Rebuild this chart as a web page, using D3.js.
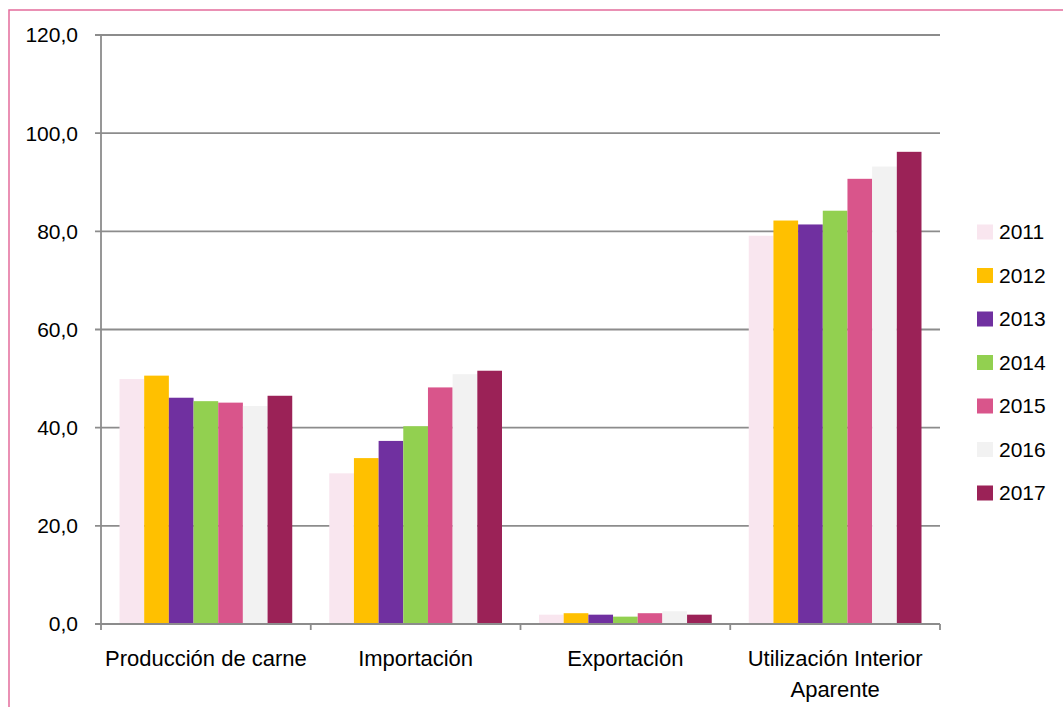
<!DOCTYPE html>
<html><head><meta charset="utf-8">
<script src="https://cdn.jsdelivr.net/npm/d3@7"></script>
<style>body{margin:0;background:#fff}svg{display:block}</style>
</head><body>
<svg id="c" width="1063" height="707"></svg>
<script>
const categories = ["Producción de carne", "Importación", "Exportación", "Utilización Interior Aparente"];
const years = ["2011","2012","2013","2014","2015","2016","2017"];
const v2011 = [49.9, 30.7, 1.9, 79.1];
const v2012 = [50.6, 33.8, 2.2, 82.2];
const v2013 = [46.1, 37.3, 1.9, 81.4];
const v2014 = [45.4, 40.3, 1.5, 84.2];
const v2015 = [45.1, 48.2, 2.2, 90.7];
const v2016 = [44.4, 50.9, 2.6, 93.2];
const v2017 = [46.5, 51.6, 1.9, 96.2];
const yTicks = [0, 20, 40, 60, 80, 100, 120];
const colors = ["#F9E6EF","#FFC000","#7030A0","#92D050","#D9558B","#F2F2F2","#9B2257"];
const series = [v2011, v2012, v2013, v2014, v2015, v2016, v2017];

const svg = d3.select("#c");
const font = "'Liberation Sans', Arial, sans-serif";
const L = 101, R = 940, T = 35, B = 624;

svg.append("rect").attr("x",9).attr("y",10).attr("width",1200).attr("height",900)
  .attr("fill","none").attr("stroke","#E36C9C").attr("stroke-width",1.5);

const y = d3.scaleLinear().domain([0,120]).range([B,T]);
const x0 = d3.scaleBand().domain(categories).range([L,R]).paddingInner(0).paddingOuter(0);
const bw = x0.bandwidth();
const inner = bw * 7 / 8.5;
const x1 = d3.scaleBand().domain(years).range([(bw-inner)/2, (bw+inner)/2]).padding(0);

// gridlines
svg.append("g").selectAll("line").data(yTicks.filter(d=>d>0)).join("line")
  .attr("x1",L-6).attr("x2",R).attr("y1",d=>y(d)).attr("y2",d=>y(d))
  .attr("stroke","#8c8c8c").attr("stroke-width",1.8);

// bars
const groups = svg.append("g").selectAll("g").data(categories).join("g")
  .attr("transform",c=>`translate(${x0(c)},0)`);
groups.selectAll("rect").data((c,ci)=>years.map((yr,si)=>({yr, v: series[si][ci], col: colors[si]})))
  .join("rect")
  .attr("x",d=>x1(d.yr)).attr("width",x1.bandwidth())
  .attr("y",d=>y(d.v)).attr("height",d=>B-y(d.v))
  .attr("fill",d=>d.col);

// axes lines
svg.append("line").attr("x1",L).attr("x2",L).attr("y1",T).attr("y2",B).attr("stroke","#8c8c8c").attr("stroke-width",1.8);
svg.append("line").attr("x1",L-6).attr("x2",R).attr("y1",B).attr("y2",B).attr("stroke","#8c8c8c").attr("stroke-width",1.8);
const bounds = categories.map(c=>x0(c)).concat([R]);
svg.append("g").selectAll("line").data(bounds).join("line")
  .attr("x1",d=>d).attr("x2",d=>d).attr("y1",B).attr("y2",B+6)
  .attr("stroke","#8c8c8c").attr("stroke-width",1.8);

// y labels
svg.append("g").selectAll("text").data(yTicks).join("text")
  .attr("x",78).attr("y",d=>y(d)).attr("dy","0.35em").attr("text-anchor","end")
  .attr("font-family",font).attr("font-size",21).attr("fill","#000")
  .text(d=>d3.format(".1f")(d).replace(".",","));

// category labels
const catLines = [["Producción de carne"],["Importación"],["Exportación"],["Utilización Interior","Aparente"]];
categories.forEach((c,i)=>{
  const t = svg.append("text").attr("x",x0(c)+bw/2).attr("y",666)
    .attr("text-anchor","middle").attr("font-family",font).attr("font-size",22).attr("fill","#000");
  catLines[i].forEach((ln,j)=>t.append("tspan").attr("x",x0(c)+bw/2).attr("dy",j?31:0).text(ln));
});

// legend
const lg = svg.append("g").selectAll("g").data(years).join("g")
  .attr("transform",(d,i)=>`translate(977,${232+i*43.5})`);
lg.append("rect").attr("x",0).attr("y",-7.5).attr("width",16).attr("height",15).attr("fill",(d,i)=>colors[i]);
lg.append("text").attr("x",22).attr("y",0).attr("dy","0.35em")
  .attr("font-family",font).attr("font-size",21).attr("fill","#000").text(d=>d);
</script>
</body></html>
